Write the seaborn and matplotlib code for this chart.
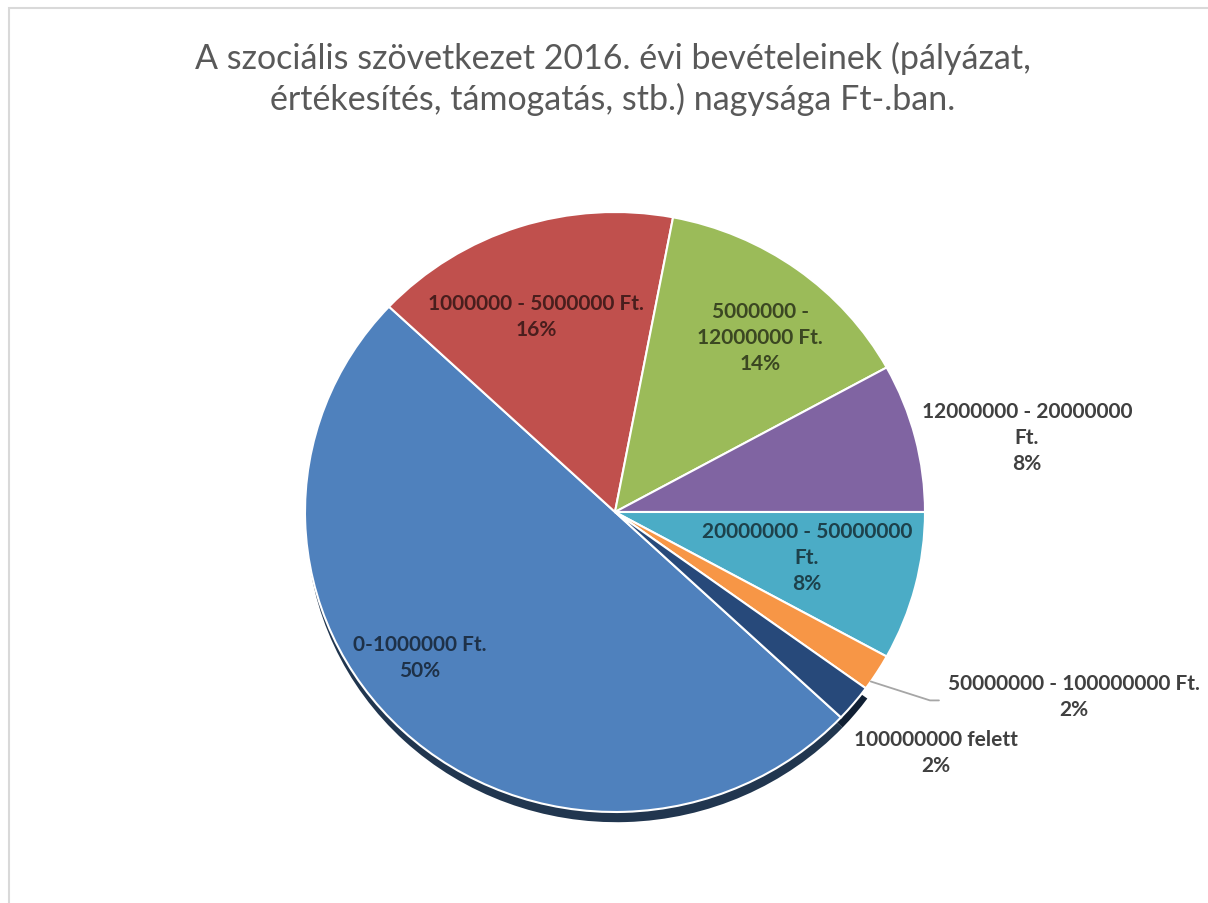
import matplotlib
matplotlib.use("Agg")
import matplotlib.pyplot as plt
from matplotlib.patches import Rectangle
import matplotlib.colors as mcolors
import seaborn as sns
import numpy as np

# ---------------- data ----------------
categories = [
    "0-1000000 Ft.",
    "1000000 - 5000000 Ft.",
    "5000000 -\n12000000 Ft.",
    "12000000 - 20000000\nFt.",
    "20000000 - 50000000\nFt.",
    "50000000 - 100000000 Ft.",
    "100000000 felett",
]
counts = [25, 8, 7, 4, 4, 1, 1]
colors = ["#4f81bd", "#c0504d", "#9bbb59", "#8064a2", "#4bacc6", "#f79646", "#27497a"]
title = "A szociális szövetkezet 2016. évi bevételeinek (pályázat,\nértékesítés, támogatás, stb.) nagysága Ft-.ban."

# ---------------- layout ----------------
W, H = 1208, 904
CX, CY, RX, RY = 615, 513, 310, 300  # pie centre / radii in pixels
# label block centres (in pie units) and whether label is inside
label_pos = [(-0.629, -0.483), (-0.255, 0.653), (0.468, 0.583),
             (1.329, 0.25), (0.619, -0.15), (1.481, -0.613), (1.035, -0.80)]
inside = [True, True, True, False, True, False, False]
shadowed = [True, False, False, False, False, False, True]

sns.set_theme(style="white")
plt.rcParams["font.family"] = ["Lato", "DejaVu Sans"]

fig = plt.figure(figsize=(W / 100, H / 100), dpi=100)
fig.patch.set_facecolor("white")

ax = fig.add_axes([(CX - RX) / W, (H - CY - RY) / H, 2 * RX / W, 2 * RY / H])

start = -43.2

def darken(c, f):
    r, g, b = mcolors.to_rgb(c)
    return (r * f, g * f, b * f)

# 3D-like depth under the front slices
shadow_cols = [darken(c, 0.42) if s else (1, 1, 1, 0) for c, s in zip(colors, shadowed)]
ax.pie(counts, colors=shadow_cols, startangle=start,
       counterclock=False, radius=1.0, center=(0.005, -0.034),
       wedgeprops=dict(linewidth=0), frame=True)
wedges, _ = ax.pie(counts, colors=colors, startangle=start, counterclock=False,
                   radius=1.0, center=(0, 0), frame=True,
                   wedgeprops=dict(edgecolor="white", linewidth=1.5))
ax.set_xlim(-1, 1)
ax.set_ylim(-1, 1)
ax.set_aspect("auto")
ax.axis("off")

total = sum(counts)
for i, (w, cat, n) in enumerate(zip(wedges, categories, counts)):
    pct = round(100 * n / total)
    x, y = label_pos[i]
    tc = darken(colors[i], 0.38) if inside[i] else "#404040"
    ax.text(x, y, f"{cat}\n{pct}%", ha="center", va="center", fontsize=15,
            fontweight="bold", color=tc, linespacing=1.4, clip_on=False)

# leader line for the orange slice
w = wedges[5]
mid = np.deg2rad((w.theta1 + w.theta2) / 2 - 2)
x0, y0 = np.cos(mid), np.sin(mid)
lx, ly = label_pos[5]
ax.plot([x0, 1.016, 1.045], [y0, ly - 0.015, ly - 0.015], color="#a6a6a6",
        lw=1.3, clip_on=False)

fig.text(613 / W, 1 - 79 / H, title, ha="center", va="center", fontsize=24.5,
         color="#595959", linespacing=1.27)

fig.patches.append(Rectangle((8.5 / W, -0.05), 1.2, 1 - 9 / H + 0.05,
                             transform=fig.transFigure, fill=False,
                             edgecolor="#d9d9d9", lw=1.5))

fig.savefig("out.png", dpi=100, facecolor="white")
